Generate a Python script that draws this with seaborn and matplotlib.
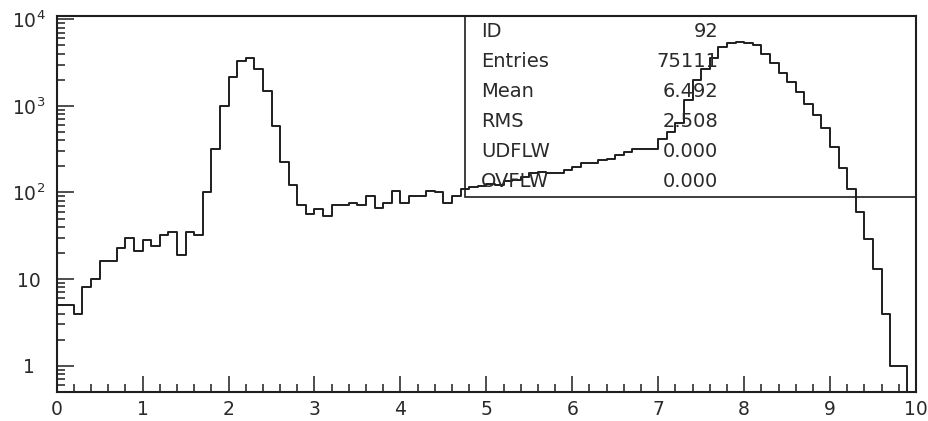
import numpy as np
import pandas as pd
import matplotlib
matplotlib.use("Agg")
import matplotlib.pyplot as plt
import seaborn as sns
from matplotlib.patches import Rectangle
from matplotlib.ticker import LogLocator, MultipleLocator, NullFormatter

# ---------------- data ----------------
bin_edges = [round(0.1 * i, 1) for i in range(101)]  # 100 bins of width 0.1
counts = [
    5, 5, 4, 8, 10, 16, 16, 23, 30, 21,
    28, 24, 32, 35, 19, 35, 32, 100, 318, 1007,
    2170, 3320, 3600, 2640, 1480, 586, 225, 123, 71, 57,
    65, 54, 71, 71, 76, 71, 90, 66, 76, 103,
    76, 90, 90, 103, 100, 76, 90, 109, 117, 118,
    125, 122, 135, 140, 152, 168, 172, 170, 170, 182,
    196, 221, 221, 238, 244, 272, 296, 318, 318, 318,
    412, 505, 640, 1170, 1990, 2640, 3540, 4820, 5270, 5500,
    5270, 5040, 3970, 3100, 2420, 1900, 1460, 1060, 785, 550,
    332, 194, 109, 59, 29, 13, 4, 1, 1, 0,
]
x_tick_values = [0, 1, 2, 3, 4, 5, 6, 7, 8, 9, 10]
x_tick_labels = ["0", "1", "2", "3", "4", "5", "6", "7", "8", "9", "10"]
y_tick_values = [1, 10, 100, 1000, 10000]
y_tick_labels = ["1", "10", r"$10^{2}$", r"$10^{3}$", r"$10^{4}$"]
stat_names = ["ID", "Entries", "Mean", "RMS", "UDFLW", "OVFLW"]
stat_values = ["92", "75111", "6.492", "2.508", "0.000", "0.000"]

# ---------------- style ----------------
sns.set_style("white")
plt.rcParams["font.family"] = ["DejaVu Sans"]
plt.rcParams["mathtext.default"] = "regular"

ink = "#1e1e1e"
text_col = "#2a2a2a"

fig = plt.figure(figsize=(9.29, 4.21), dpi=100)
ax = fig.add_axes([0.0610, 0.0696, 0.9250, 0.8931])

centers = [(a + b) / 2 for a, b in zip(bin_edges[:-1], bin_edges[1:])]
df = pd.DataFrame({"x": centers, "n": counts})
sns.histplot(data=df, x="x", weights="n", bins=bin_edges, element="step",
             fill=False, color=ink, linewidth=1.4, ax=ax)

ax.set_yscale("log")
ax.set_xlim(0, 10)
ax.set_ylim(0.5, 11000)
ax.set_xlabel("")
ax.set_ylabel("")

ax.set_xticks(x_tick_values, labels=x_tick_labels)
ax.xaxis.set_minor_locator(MultipleLocator(0.2))
ax.set_yticks(y_tick_values, labels=y_tick_labels)
ax.yaxis.set_minor_locator(LogLocator(base=10, subs=np.arange(2, 10), numticks=30))
ax.yaxis.set_minor_formatter(NullFormatter())

ax.tick_params(axis="both", which="both", direction="in",
               bottom=True, left=True, top=False, right=False,
               colors=ink, labelcolor=text_col, labelsize=13.5)
ax.tick_params(axis="x", which="major", length=11.5, width=1.1, pad=6)
ax.tick_params(axis="x", which="minor", length=6, width=1.1)
ax.tick_params(axis="y", which="major", length=12, width=1.1, pad=20)
ax.tick_params(axis="y", which="minor", length=5.5, width=1.1)
for lab in ax.get_yticklabels():
    lab.set_horizontalalignment("center")

for sp in ax.spines.values():
    sp.set_visible(True)
    sp.set_color(ink)
    sp.set_linewidth(1.5)

# statistics box
box_left = 0.4752
box_bottom = 0.5186
ax.add_patch(Rectangle((box_left, box_bottom), 1 - box_left, 1 - box_bottom,
                       transform=ax.transAxes, fill=False, edgecolor=ink,
                       linewidth=1.2, zorder=3))
row_y = [0.957, 0.877, 0.798, 0.718, 0.638, 0.5585]
for name, val, yy in zip(stat_names, stat_values, row_y):
    ax.text(0.4938, yy, name, transform=ax.transAxes, ha="left", va="center",
            fontsize=14, color=text_col)
    ax.text(0.7696, yy, val, transform=ax.transAxes, ha="right", va="center",
            fontsize=14, color=text_col)

fig.savefig("out.png", dpi=100)
